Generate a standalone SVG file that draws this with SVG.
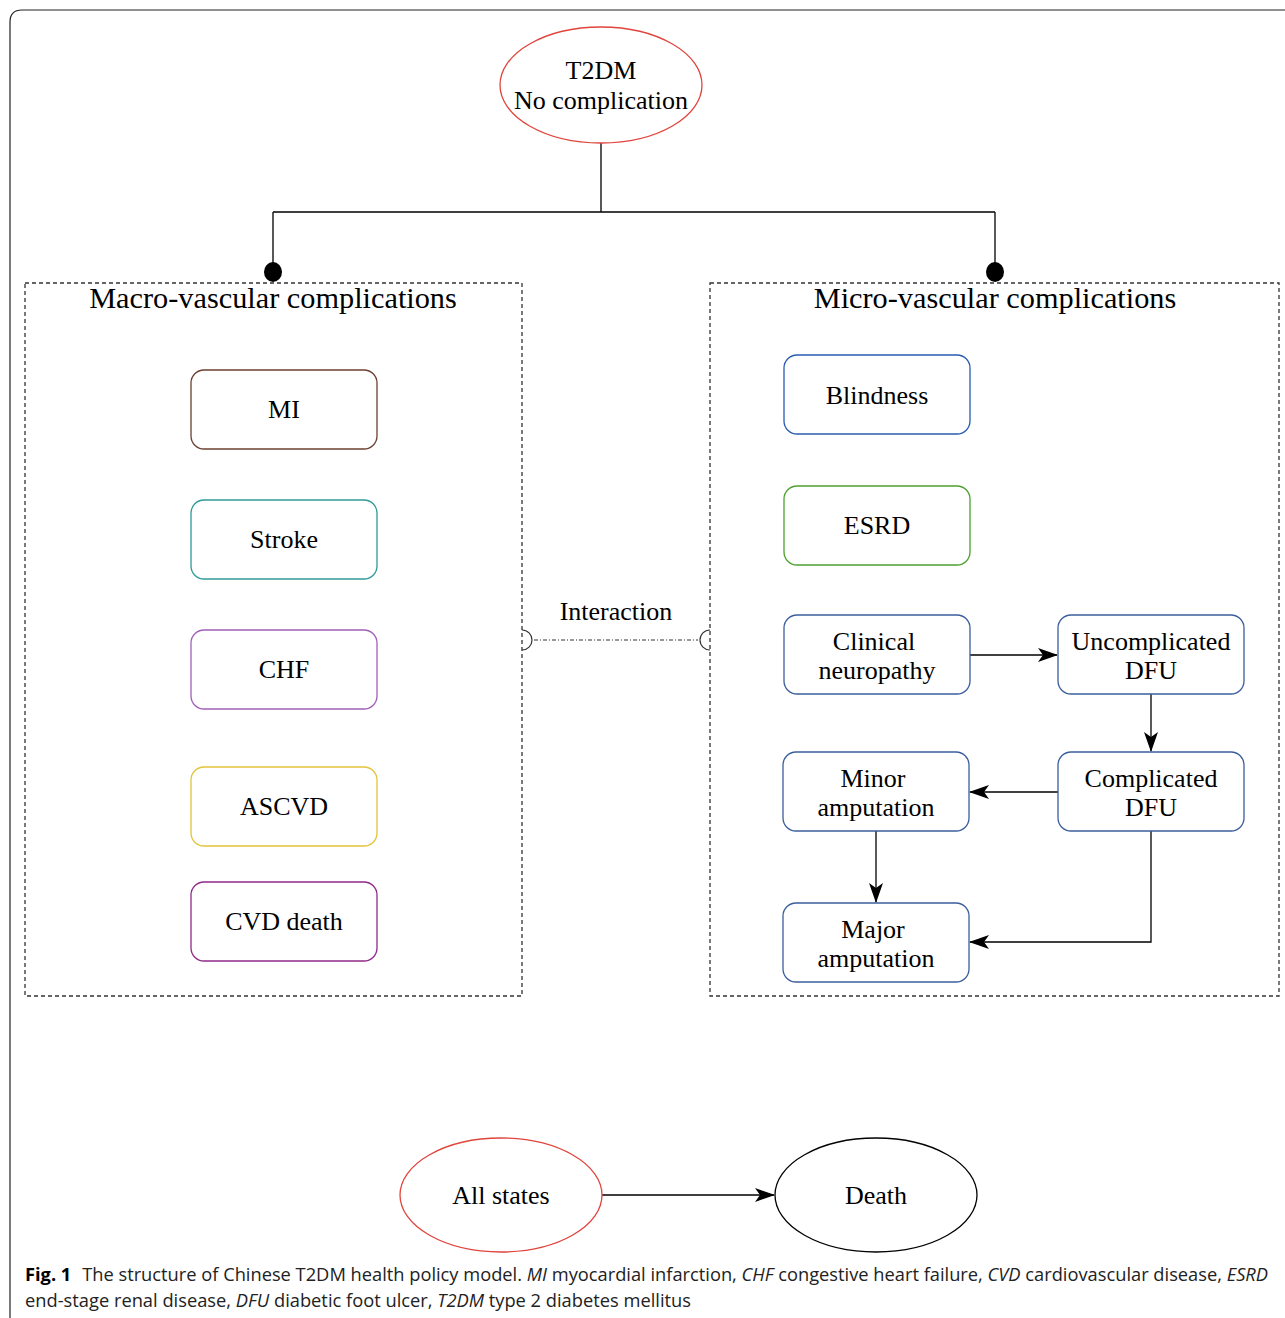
<svg xmlns="http://www.w3.org/2000/svg" width="1285" height="1318" viewBox="0 0 1285 1318">
<defs>
<style>
.t{font-family:"Liberation Serif","Times New Roman",serif;font-size:26px;fill:#000;text-anchor:middle}
.title{font-size:30.3px}
.box{fill:#fff;stroke-width:1.3}
.blue{stroke:#3b5e9c}
.conn{fill:none;stroke:#000;stroke-width:1.3}
.grp{fill:none;stroke:#333;stroke-width:1.3;stroke-dasharray:4 3}
.cap{font-family:"Open Sans","Noto Sans",sans-serif;font-size:18px;fill:#222}
</style>
<marker id="arr" viewBox="0 0 20 14" refX="19" refY="7" markerWidth="20" markerHeight="14" markerUnits="userSpaceOnUse" orient="auto">
<path d="M0,0 L20,7 L0,14 L5,7 Z" fill="#000"/>
</marker>
</defs>
<rect width="1285" height="1318" fill="#fff"/>
<path d="M10,1318 L10,22 Q10,10 22,10 L1290,10" fill="none" stroke="#222" stroke-width="1.2"/>

<g id="macro-group">
<rect class="grp" x="25" y="283" width="497" height="713"/>
<text class="t title" x="273" y="308">Macro-vascular complications</text>
</g>
<g id="micro-group">
<rect class="grp" x="710" y="283" width="569" height="713"/>
<text class="t title" x="995" y="308">Micro-vascular complications</text>
</g>

<g id="connectors">
<path class="conn" d="M601,143 V212 M273,212 H995 M273,212 V264 M995,212 V264"/>
<ellipse cx="273" cy="272" rx="9" ry="10" fill="#000"/>
<ellipse cx="995" cy="272" rx="9" ry="10" fill="#000"/>
<path d="M534,640 H698" fill="none" stroke="#333" stroke-width="1.2" stroke-dasharray="4 2 1 2"/>
<path d="M522,630 A10,10 0 0 1 522,650" fill="none" stroke="#333" stroke-width="1.2"/>
<path d="M710,630 A10,10 0 0 0 710,650" fill="none" stroke="#333" stroke-width="1.2"/>
<text class="t" x="616" y="620">Interaction</text>
<path class="conn" d="M970,655 H1057" marker-end="url(#arr)"/>
<path class="conn" d="M1151,694 V751" marker-end="url(#arr)"/>
<path class="conn" d="M1058,792 H970" marker-end="url(#arr)"/>
<path class="conn" d="M876,831 V902" marker-end="url(#arr)"/>
<path class="conn" d="M1151,831 V942 H970" marker-end="url(#arr)"/>
<path class="conn" d="M602,1195 H774" marker-end="url(#arr)"/>
</g>

<g id="t2dm">
<ellipse cx="601" cy="85" rx="101" ry="58" fill="#fff" stroke="#e0443c" stroke-width="1.3"/>
<text class="t" x="601" y="79">T2DM</text>
<text class="t" x="601" y="109">No complication</text>
</g>

<g id="mi"><rect class="box" x="191" y="370" width="186" height="79" rx="13" stroke="#6b4030"/><text class="t" x="284" y="418">MI</text></g>
<g id="stroke"><rect class="box" x="191" y="500" width="186" height="79" rx="13" stroke="#2f9a98"/><text class="t" x="284" y="548">Stroke</text></g>
<g id="chf"><rect class="box" x="191" y="630" width="186" height="79" rx="13" stroke="#a060b8"/><text class="t" x="284" y="678">CHF</text></g>
<g id="ascvd"><rect class="box" x="191" y="767" width="186" height="79" rx="13" stroke="#e2c43a"/><text class="t" x="284" y="815">ASCVD</text></g>
<g id="cvd-death"><rect class="box" x="191" y="882" width="186" height="79" rx="13" stroke="#902a88"/><text class="t" x="284" y="930">CVD death</text></g>

<g id="blindness"><rect class="box" x="784" y="355" width="186" height="79" rx="13" stroke="#2a5cb0"/><text class="t" x="877" y="404">Blindness</text></g>
<g id="esrd"><rect class="box" x="784" y="486" width="186" height="79" rx="13" stroke="#4ea030"/><text class="t" x="877" y="534">ESRD</text></g>
<g id="clinical-neuropathy"><rect class="box blue" x="784" y="615" width="186" height="79" rx="13"/><text class="t" x="874" y="650">Clinical</text><text class="t" x="877" y="679">neuropathy</text></g>
<g id="uncomplicated-dfu"><rect class="box blue" x="1058" y="615" width="186" height="79" rx="13"/><text class="t" x="1151" y="650">Uncomplicated</text><text class="t" x="1151" y="679">DFU</text></g>
<g id="minor-amputation"><rect class="box blue" x="783" y="752" width="186" height="79" rx="13"/><text class="t" x="873" y="787">Minor</text><text class="t" x="876" y="816">amputation</text></g>
<g id="complicated-dfu"><rect class="box blue" x="1058" y="752" width="186" height="79" rx="13"/><text class="t" x="1151" y="787">Complicated</text><text class="t" x="1151" y="816">DFU</text></g>
<g id="major-amputation"><rect class="box blue" x="783" y="903" width="186" height="79" rx="13"/><text class="t" x="873" y="938">Major</text><text class="t" x="876" y="967">amputation</text></g>

<g id="all-states">
<ellipse cx="501" cy="1195" rx="101" ry="57" fill="#fff" stroke="#e0443c" stroke-width="1.3"/>
<text class="t" x="501" y="1204">All states</text>
</g>
<g id="death">
<ellipse cx="876" cy="1195" rx="101" ry="57" fill="#fff" stroke="#000" stroke-width="1.3"/>
<text class="t" x="876" y="1204">Death</text>
</g>

<g id="caption">
<text class="cap" x="25" y="1281" textLength="1243" lengthAdjust="spacingAndGlyphs"><tspan font-weight="bold" fill="#000">Fig. 1</tspan><tspan dx="6"> The structure of Chinese T2DM health policy model. </tspan><tspan font-style="italic">MI</tspan> myocardial infarction, <tspan font-style="italic">CHF</tspan> congestive heart failure, <tspan font-style="italic">CVD</tspan> cardiovascular disease, <tspan font-style="italic">ESRD</tspan></text>
<text class="cap" x="25" y="1307" textLength="666" lengthAdjust="spacingAndGlyphs">end-stage renal disease, <tspan font-style="italic">DFU</tspan> diabetic foot ulcer, <tspan font-style="italic">T2DM</tspan> type 2 diabetes mellitus</text>
</g>
</svg>
